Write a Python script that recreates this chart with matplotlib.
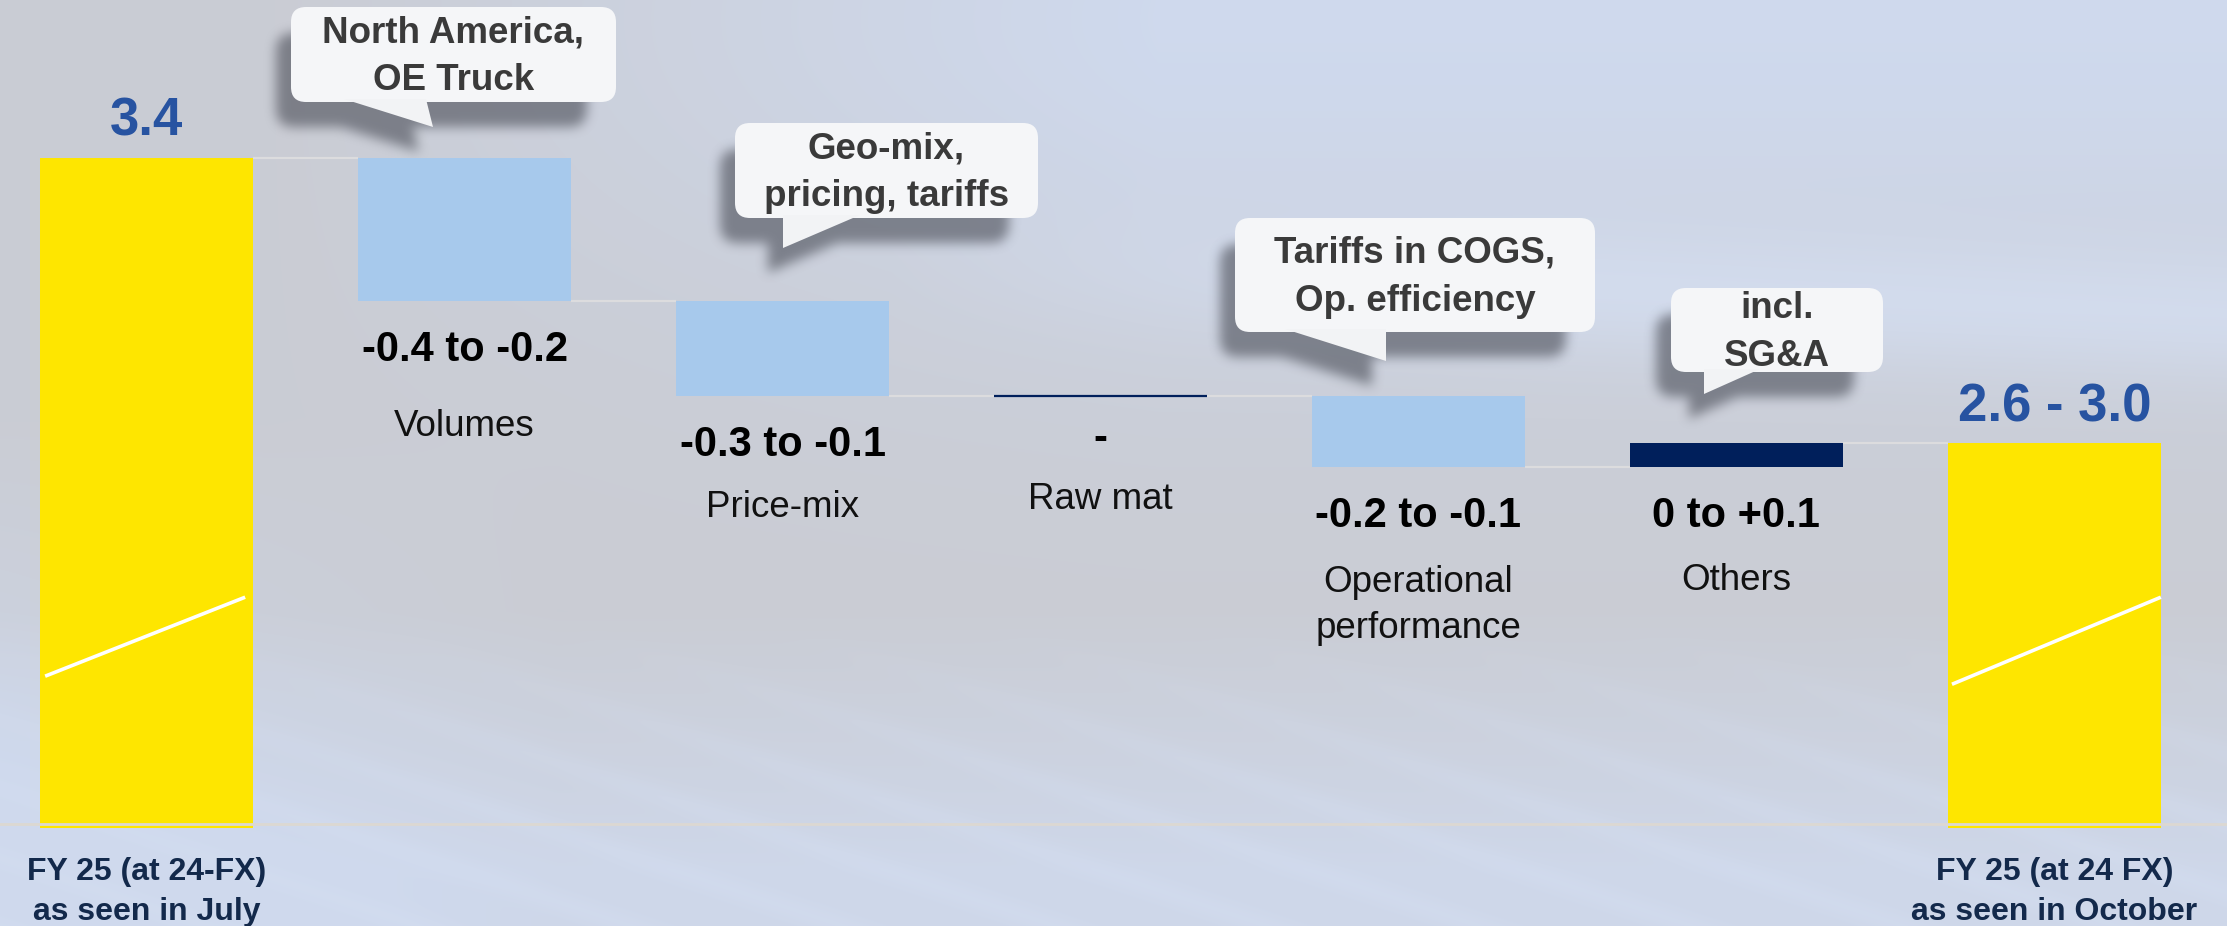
import numpy as np
import matplotlib
matplotlib.use("Agg")
import matplotlib.pyplot as plt
from matplotlib.patches import FancyBboxPatch, Polygon
from matplotlib.path import Path

# ---------------- data ----------------
categories = ["FY 25 (at 24-FX)\nas seen in July", "Volumes", "Price-mix", "Raw mat",
              "Operational\nperformance", "Others", "FY 25 (at 24 FX)\nas seen in October"]
start_value = 3.4
delta_mid = [-0.3, -0.2, 0.0, -0.15, 0.05]          # mid-points of the guided ranges
end_value = 2.8
range_labels = ["-0.4 to -0.2", "-0.3 to -0.1", "-", "-0.2 to -0.1", "0 to +0.1"]
total_labels = ["3.4", "2.6 - 3.0"]
callout_texts = ["North America,\nOE Truck", "Geo-mix,\npricing, tariffs",
                 "Tariffs in COGS,\nOp. efficiency", "incl.\nSG&A"]
axis_floor = 2.0   # value axis is broken: bars start at 2.0

# ---------------- layout / style ----------------
W, H = 2227, 926
FONT = "Liberation Sans"
YELLOW = "#FEE600"
LBLUE = "#A7C9EC"
NAVY = "#001F5B"
TBLUE = "#2753A1"
CONN = "#DCDCDE"
BAR_W = 0.67
XLIM = (-0.461, 6.543)
YLIM = (1.786, 3.732)
LS_UNIT = 0.828   # matplotlib line step per (linespacing * font px) for this font

callout_boxes = [(291, 7, 616, 102), (735, 123, 1038, 218),
                 (1235, 218, 1595, 332), (1671, 288, 1883, 372)]
callout_tails = [[(344, 99), (426, 99), (433, 127)],
                 [(783, 215), (860, 215), (783, 248)],
                 [(1285, 329), (1386, 329), (1386, 361)],
                 [(1704, 369), (1760, 369), (1704, 394)]]
# baseline (px from top) of the LAST line of each category label
cat_baselines_px = {1: 436, 2: 517, 3: 509, 4: 638, 5: 590}
value_extra_px = {2: -6}      # small per-label vertical nudges (raw-mat dash sits higher)
bottom_baseline_px = 920

fig = plt.figure(figsize=(W / 100, H / 100), dpi=100)

# ---------------- background ----------------
yy, xx = np.mgrid[0:H, 0:W].astype(float)
u = xx / W
v = yy / H
gray = np.array([0.792, 0.802, 0.832])
blue = np.array([0.812, 0.852, 0.930])
light = np.array([0.835, 0.875, 0.950])
img = np.ones((H, W, 3)) * gray
w_top = np.clip((u - 0.12) / 0.4, 0, 1) * np.exp(-((v - 0.02) / 0.33) ** 2)
w_band = np.exp(-((v - (0.24 + 0.10 * u)) / 0.07) ** 2) * np.clip((u - 0.40) / 0.3, 0, 1)
w_bot = np.clip((v - 0.66) / 0.28, 0, 1) * 0.85
w_left = np.clip((0.25 - u) / 0.25, 0, 1) * np.clip((v - 0.45) / 0.3, 0, 1) * 0.5
w_blue = np.clip(w_top + w_bot + w_left, 0, 1)
img = img + w_blue[..., None] * (blue - gray)
img = img + (0.7 * w_band)[..., None] * (light - img)
stripes = 0.5 + 0.5 * np.sin(2 * np.pi * (yy - 0.33 * xx) / 70.0)
w_str = np.clip((v - 0.68) / 0.25, 0, 1) * 0.35
img = img + (w_str * stripes ** 3)[..., None] * (light - img)
img = np.clip(img, 0, 1)

ax_bg = fig.add_axes([0, 0, 1, 1])
ax_bg.set_zorder(0)
ax_bg.imshow(img, extent=(0, W, H, 0), aspect="auto", interpolation="bilinear", zorder=0)
ax_bg.set_xlim(0, W)
ax_bg.set_ylim(H, 0)
ax_bg.axis("off")

# ---------------- callout shadows ----------------
def rounded_mask(x0, y0, x1, y1, r):
    dx = np.maximum(np.maximum(x0 + r - xx, 0), xx - (x1 - r))
    dy = np.maximum(np.maximum(y0 + r - yy, 0), yy - (y1 - r))
    dx = np.maximum(dx, 0)
    dy = np.maximum(dy, 0)
    inside = (xx >= x0) & (xx <= x1) & (yy >= y0) & (yy <= y1)
    return inside & (dx ** 2 + dy ** 2 <= r ** 2)

def blur1d(a, r, axis):
    a = np.moveaxis(a, axis, -1)
    p = np.pad(a, [(0, 0)] * (a.ndim - 1) + [(r + 1, r)], mode="constant")
    c = np.cumsum(p, axis=-1)
    out = (c[..., 2 * r + 1:] - c[..., :-2 * r - 1]) / (2 * r + 1)
    return np.moveaxis(out, -1, axis)

mask = np.zeros((H, W))
pts = np.column_stack([xx.ravel(), yy.ravel()])
for (x0, y0, x1, y1), tail in zip(callout_boxes, callout_tails):
    m = rounded_mask(x0 - 15, y0 + 26, x1 - 30, y1 + 24, 14)
    tri = Path([(px - 15, py + 24) for px, py in tail] + [(tail[0][0] - 15, tail[0][1] + 24)])
    tm = tri.contains_points(pts).reshape(H, W)
    mask = np.maximum(mask, (m | tm).astype(float))
for _ in range(3):
    mask = blur1d(mask, 5, 0)
    mask = blur1d(mask, 5, 1)
shadow = np.zeros((H, W, 4))
shadow[..., 0] = 0.30
shadow[..., 1] = 0.31
shadow[..., 2] = 0.35
shadow[..., 3] = 0.62 * mask
ax_bg.imshow(shadow, extent=(0, W, H, 0), aspect="auto", interpolation="bilinear", zorder=1)

# ---------------- callout boxes ----------------
cfs = 26.5
for (x0, y0, x1, y1), tail, txt in zip(callout_boxes, callout_tails, callout_texts):
    ax_bg.add_patch(FancyBboxPatch((x0, y0), x1 - x0, y1 - y0,
                                   boxstyle="round,pad=0,rounding_size=15",
                                   facecolor="#F5F6F8", edgecolor="none", zorder=3))
    ax_bg.add_patch(Polygon(tail, closed=True, facecolor="#F2F3F5", edgecolor="none", zorder=3))
    size_px = cfs * 100 / 72
    step = 45
    b_last = (y0 + y1) / 2 + step / 2 + 0.358 * size_px
    ax_bg.text((x0 + x1) / 2, b_last, txt, ha="center", va="baseline", fontsize=cfs,
               fontweight="bold", color="#3A3A3A", family=FONT,
               linespacing=step / (LS_UNIT * size_px), zorder=4)

# ---------------- waterfall ----------------
ax = fig.add_axes([0, 0, 1, 1])
ax.set_zorder(1)
ax.patch.set_visible(False)
ax.set_xlim(*XLIM)
ax.set_ylim(*YLIM)
ax.axis("off")

def px_to_y(p):
    return YLIM[1] - p / H * (YLIM[1] - YLIM[0])

n = len(categories)
x = np.arange(n)
PT = 0.72  # points per pixel

# baseline
ax.axhline(axis_floor, color="#DCD8D2", lw=2.0, zorder=5)

# start bar
ax.bar(x[0], start_value - (axis_floor - 0.008), bottom=axis_floor - 0.008, width=BAR_W,
       color=YELLOW, zorder=3)
ax.annotate(total_labels[0], (x[0], start_value), xytext=(0, 22 * PT), textcoords="offset points",
            ha="center", va="baseline", fontsize=38, fontweight="bold", color=TBLUE, family=FONT)

running = start_value
levels = [start_value]
for i, d in enumerate(delta_mid):
    xi = x[i + 1]
    new = running + d
    lo, hi = min(running, new), max(running, new)
    if d < 0:
        ax.bar(xi, hi - lo, bottom=lo, width=BAR_W, color=LBLUE, zorder=3)
    elif d > 0:
        ax.bar(xi, hi - lo, bottom=lo, width=BAR_W, color=NAVY, zorder=3)
    else:
        ax.hlines(lo, xi - BAR_W / 2, xi + BAR_W / 2, color=NAVY, lw=1.6, zorder=4)
    off = -60 - value_extra_px.get(i, 0)
    ax.annotate(range_labels[i], (xi, lo), xytext=(0, off * PT), textcoords="offset points",
                ha="center", va="baseline", fontsize=30, fontweight="bold", color="black",
                family=FONT)
    running = new
    levels.append(running)

# end bar
ax.bar(x[-1], end_value - (axis_floor - 0.008), bottom=axis_floor - 0.008, width=BAR_W,
       color=YELLOW, zorder=3)
ax.annotate(total_labels[1], (x[-1], end_value), xytext=(0, 22 * PT), textcoords="offset points",
            ha="center", va="baseline", fontsize=38, fontweight="bold", color=TBLUE, family=FONT)
levels.append(end_value)

# connectors
for i in range(n - 1):
    lvl = levels[i] if i < n - 2 else end_value
    ax.hlines(lvl, x[i] + BAR_W / 2, x[i + 1] - BAR_W / 2, color=CONN, lw=1.6, zorder=2)

# axis-break marks on the total bars
ax.plot([x[0] - BAR_W / 2 + 0.016, x[0] + BAR_W / 2 - 0.025], [2.311, 2.477],
        color="white", lw=2.6, solid_capstyle="butt", zorder=4)
ax.plot([x[-1] - BAR_W / 2 + 0.013, x[-1] + BAR_W / 2], [2.294, 2.477],
        color="white", lw=2.6, solid_capstyle="butt", zorder=4)

# category labels
for i, b in cat_baselines_px.items():
    size_px = 26.5 * 100 / 72
    ax.text(x[i], px_to_y(b), categories[i], ha="center", va="baseline", fontsize=26.5,
            color="#111111", family=FONT, linespacing=43 / (LS_UNIT * size_px))
for i in (0, n - 1):
    size_px = 23 * 100 / 72
    ax.text(x[i], px_to_y(bottom_baseline_px), categories[i], ha="center", va="baseline",
            fontsize=23, fontweight="bold", color="#13294B", family=FONT,
            linespacing=38 / (LS_UNIT * size_px))

fig.savefig("out.png", dpi=100)
